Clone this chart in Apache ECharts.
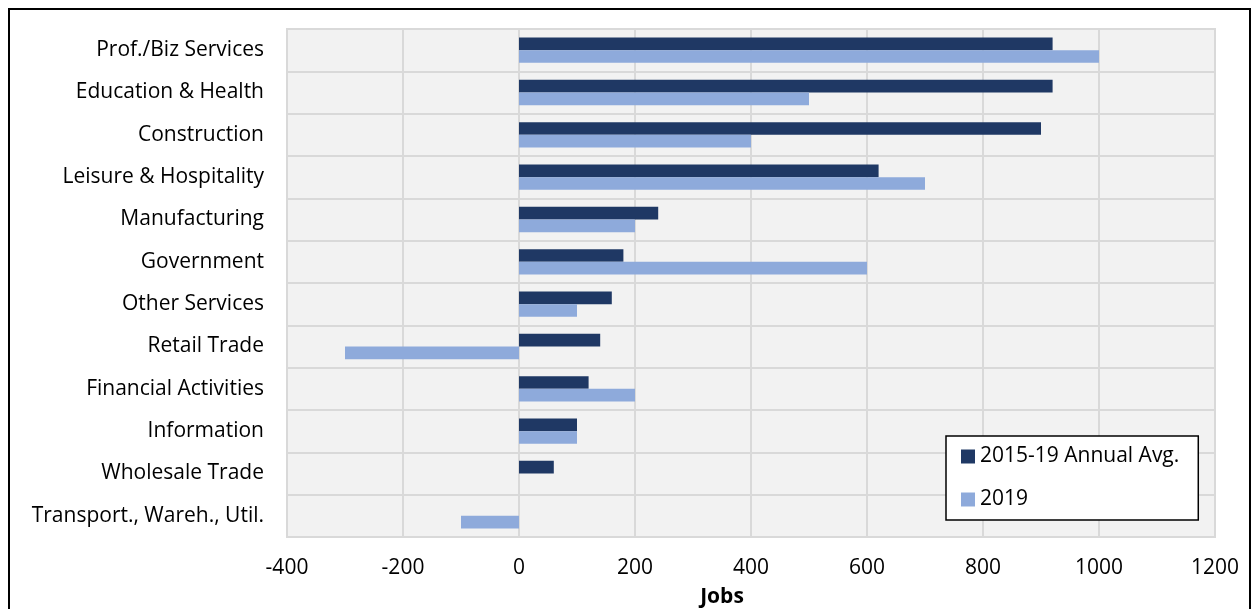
<!DOCTYPE html>
<html>
<head>
<meta charset="utf-8">
<style>
  html, body { margin: 0; padding: 0; background: #ffffff; }
  #frame { position: absolute; left: 8px; top: 8px; width: 1243px; height: 620px; border: 2px solid #000; box-sizing: border-box; }
  #chart { position: absolute; left: 0; top: 0; width: 1253px; height: 609px; }
</style>
<script src="https://cdn.jsdelivr.net/npm/echarts@6/dist/echarts.min.js"></script>
</head>
<body>
<div id="frame"></div>
<div id="chart"></div>
<script>
// Job growth by industry
const categories = [
  'Prof./Biz Services', 'Education & Health', 'Construction', 'Leisure & Hospitality',
  'Manufacturing', 'Government', 'Other Services', 'Retail Trade',
  'Financial Activities', 'Information', 'Wholesale Trade', 'Transport., Wareh., Util.'
];
const avg2015to19 = [920, 920, 900, 620, 240, 180, 160, 140, 120, 100, 60, 0];
const year2019 = [1000, 500, 400, 700, 200, 600, 100, -300, 200, 100, 0, -100];
const seriesNames = ['2015-19 Annual Avg.', '2019'];
const xTicks = { min: -400, max: 1200, interval: 200 };

const FONT = 'Open Sans';
const FS = 21;
const chart = echarts.init(document.getElementById('chart'));
chart.setOption({
  animation: false,
  textStyle: { fontFamily: FONT, color: '#000' },
  grid: {
    left: 287, right: 38, top: 29, bottom: 72,
    show: true, backgroundColor: '#f2f2f2', borderColor: '#d9d9d9', borderWidth: 2
  },
  title: {
    text: 'Jobs', left: 722, top: 587, textAlign: 'center', padding: 0,
    textStyle: { fontFamily: FONT, fontSize: FS, fontWeight: 'bold', color: '#000' }
  },
  legend: {
    left: 946, top: 436,
    orient: 'vertical', backgroundColor: '#fff', borderColor: '#000', borderWidth: 1.5,
    padding: [10, 19, 10, 15], itemGap: 22, itemWidth: 14, itemHeight: 14,
    icon: 'rect',
    textStyle: { fontFamily: FONT, fontSize: FS, color: '#000' },
    data: seriesNames
  },
  xAxis: {
    type: 'value', min: xTicks.min, max: xTicks.max, interval: xTicks.interval,
    axisLine: { show: false }, axisTick: { show: false },
    axisLabel: { fontFamily: FONT, fontSize: FS, color: '#000', margin: 21,
      formatter: v => String(v) },
    splitLine: { show: true, lineStyle: { color: '#d9d9d9', width: 2 } }
  },
  yAxis: {
    type: 'category', data: categories, inverse: true,
    axisLine: { show: false }, axisTick: { show: false },
    axisLabel: { fontFamily: FONT, fontSize: FS, color: '#000', margin: 23 },
    splitLine: { show: true, lineStyle: { color: '#d9d9d9', width: 2 } }
  },
  series: [
    { name: seriesNames[0], type: 'bar', data: avg2015to19, itemStyle: { color: '#1f3864' },
      barGap: '0%', barCategoryGap: '40%' },
    { name: seriesNames[1], type: 'bar', data: year2019, itemStyle: { color: '#8eaadb' },
      barGap: '0%', barCategoryGap: '40%' }
  ]
});
</script>
</body>
</html>
